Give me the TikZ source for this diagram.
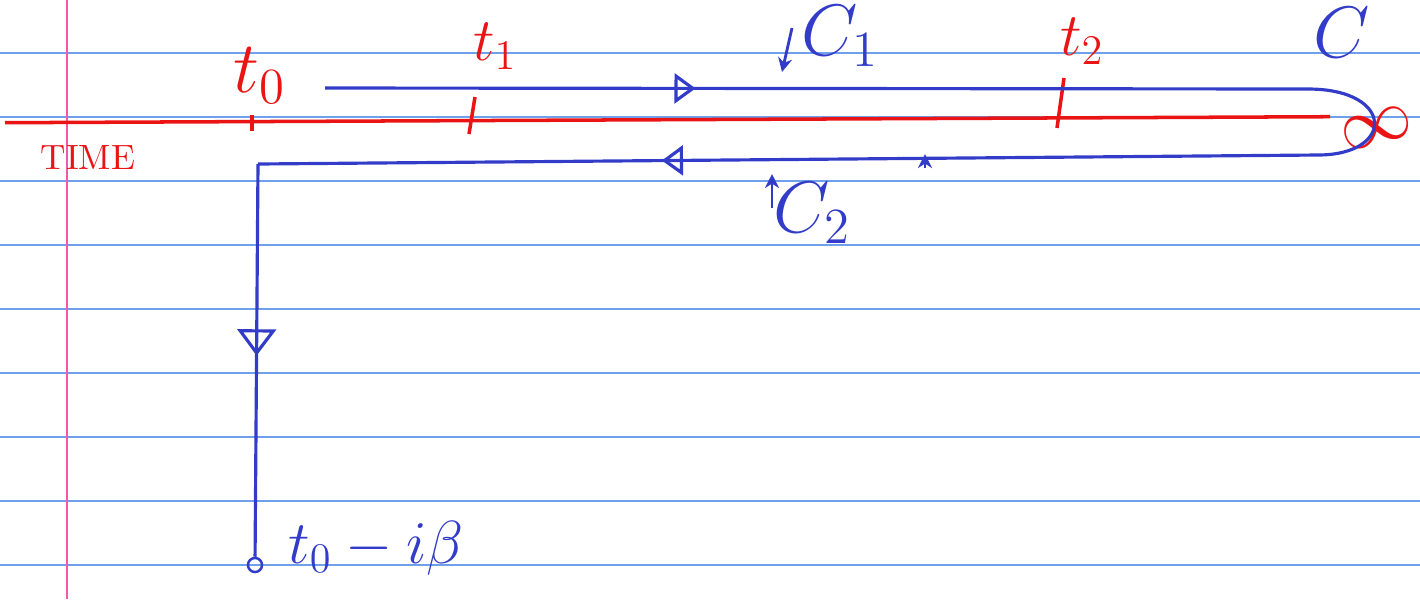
\documentclass[tikz,border=0pt]{standalone}
\usepackage{amsmath,amssymb}
\usepackage{xcolor}
\usetikzlibrary{arrows.meta,decorations.markings}
\definecolor{penblue}{RGB}{50,60,200}
\definecolor{penred}{RGB}{235,20,20}
\definecolor{ruleblue}{RGB}{110,160,235}
\definecolor{marginpink}{RGB}{240,90,170}

\tikzset{
  contour/.style={penblue, line width=0.9pt},
  realtip/.style={postaction={decorate,decoration={markings,
      mark=at position #1 with {\arrow{Triangle[open,length=6pt,width=8.5pt]}}}}},
  imagtip/.style={postaction={decorate,decoration={markings,
      mark=at position #1 with {\arrow{Triangle[open,length=7.5pt,width=11pt]}}}}},
  tick/.append style={penred, line width=1pt},
  pointer/.style={penblue, line width=0.8pt, -{Stealth[length=4pt,width=4pt]}},
  label/.style={inner sep=1pt}
}

\begin{document}
\begin{tikzpicture}[x=0.01cm,y=-0.01cm]
  \useasboundingbox (0,0) rectangle (1420,599);
  % ruled paper
  \fill[white] (0,0) rectangle (1420,599);
  \foreach \y in {53,117,...,565}
    \draw[ruleblue, line width=0.5pt] (0,\y) -- (1420,\y);
  \draw[marginpink, line width=0.6pt] (67,0) -- (67,599);

  % time axis
  \coordinate (tstart) at (5,122.7);
  \coordinate (tend) at (1330,116.7);
  \draw[penred, line width=1pt] (tstart) -- (tend);
  \draw[tick] (252,115) -- (252,131);
  \draw[tick] (475,97) -- (469,134);
  \draw[tick] (1064,78) -- (1057,128);
  \node[label, penred] (t0) at (260,76) {\huge $t_0$};
  \node[label, penred] (t1) at (495,46) {\LARGE $t_1$};
  \node[label, penred] (t2) at (1082,41) {\LARGE $t_2$};
  \node[label, penred] (time) at (88,157) {\normalsize TIME};
  \node[penred, inner sep=0pt, rotate=15] (inf) at (1377,128) {\huge $\infty$};

  % contour C = C1 + C2
  \coordinate (start) at (325,88);
  \coordinate (turnA) at (1308,89);
  \coordinate (turnB) at (1318,155);
  \coordinate (corner) at (258,164);
  \node[circle, draw=penblue, line width=0.7pt, inner sep=0pt, minimum size=4pt] (endpt) at (255,565) {};
  \draw[contour, realtip=0.377] (start) -- (turnA);
  \draw[contour] (turnA) .. controls (1395,89) and (1395,155) .. (turnB);
  \draw[contour, realtip=0.619] (turnB) -- (corner);
  \draw[contour, imagtip=0.488] (corner) -- (endpt);

  % labels
  \node[label, penblue] (C) at (1342,33) {\huge $C$};
  \node[label, penblue] (C1) at (840,36) {\huge $C_1$};
  \node[label, penblue] (C2) at (812,213) {\huge $C_2$};
  \node[label, penblue] (endlabel) at (376,548) {\LARGE $t_0 - i\beta$};
  \coordinate (p1a) at (792,28);
  \coordinate (p1b) at (782,72);
  \coordinate (p2a) at (772,208);
  \coordinate (p2b) at (772,174);
  \coordinate (p3a) at (925,168);
  \coordinate (p3b) at (925,154);
  \draw[pointer] (p1a) -- (p1b);
  \draw[pointer] (p2a) -- (p2b);
  \draw[pointer] (p3a) -- (p3b);
\end{tikzpicture}
\end{document}
